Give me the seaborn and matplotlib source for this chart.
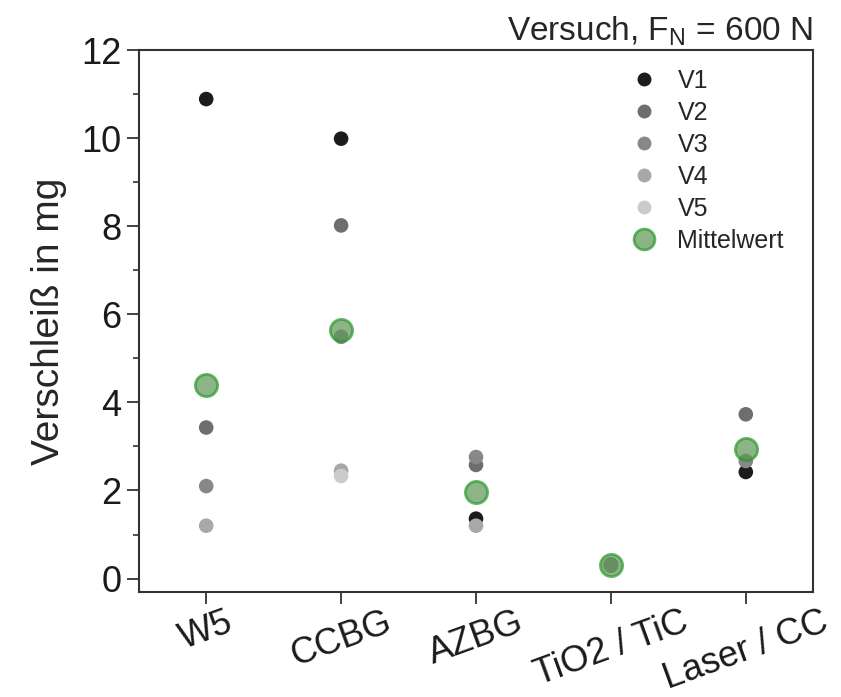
import pandas as pd
import matplotlib
matplotlib.use("Agg")
import matplotlib.pyplot as plt
from matplotlib.lines import Line2D
from matplotlib.ticker import MultipleLocator
import seaborn as sns

# Verschleiß je Probe und Versuch (mg), None = kein Versuch
categories = ["W5", "CCBG", "AZBG", "TiO2 / TiC", "Laser / CC"]
runs = ["V1", "V2", "V3", "V4", "V5"]
v1 = [10.89, 9.99, 1.36, 0.30, 2.42]
v2 = [3.43, 8.02, 2.58, 0.32, 3.73]
v3 = [2.10, 5.49, 2.76, 0.29, 2.67]
v4 = [1.20, 2.45, 1.20, None, None]
v5 = [None, 2.33, None, None, None]

run_colors = ["#1c1c1c", "#6e6e70", "#88888a", "#a8a8aa", "#cbcbcd"]
mean_face = "#5a9455"
mean_edge = "#2a9a2a"

sns.set_style("ticks")
plt.rcParams["font.family"] = ["Liberation Sans", "DejaVu Sans"]
plt.rcParams["mathtext.fontset"] = "custom"
plt.rcParams["mathtext.rm"] = "Liberation Sans"

rows = []
for run, vals in zip(runs, [v1, v2, v3, v4, v5]):
    for cat, v in zip(categories, vals):
        if v is not None:
            rows.append({"Probe": cat, "Versuch": run, "Verschleiss": v})
df = pd.DataFrame(rows)
means = df.groupby("Probe", sort=False)["Verschleiss"].mean().reindex(categories).reset_index()

fig, ax = plt.subplots(figsize=(8.41, 6.97), dpi=100)
fig.subplots_adjust(left=0.165, right=0.967, top=0.928, bottom=0.151)

sns.stripplot(data=df, x="Probe", y="Verschleiss", hue="Versuch", order=categories,
              hue_order=runs, palette=run_colors, jitter=False, dodge=False,
              size=10.5, linewidth=0, legend=False, ax=ax, zorder=2)
sns.stripplot(data=means, x="Probe", y="Verschleiss", order=categories, jitter=False,
              color=mean_face, edgecolor=mean_edge, linewidth=2, size=16, alpha=0.7,
              ax=ax, zorder=3)

ax.set_xlim(-0.5, 4.5)
ax.set_ylim(-0.3, 12)
ax.set_yticks(range(0, 13, 2))
ax.yaxis.set_minor_locator(MultipleLocator(1))
ax.set_xlabel("")
ax.set_ylabel("Verschleiß in mg", fontsize=28, labelpad=10)
ax.set_title("Versuch, F$_{\\mathrm{N}}$ = 600 N", loc="right", fontsize=24, pad=7)

ax.tick_params(axis="both", which="major", direction="out", length=8.5, width=1.3,
               colors="#333333", labelcolor="#1a1a1a")
ax.tick_params(axis="y", which="minor", direction="out", length=4.5, width=1.2, colors="#333333")
ax.tick_params(axis="y", labelsize=26, pad=4)
ax.tick_params(axis="x", labelsize=26, pad=1)
for lab in ax.get_xticklabels():
    lab.set_rotation(20)
    lab.set_ha("center")

for sp in ax.spines.values():
    sp.set_visible(True)
    sp.set_color("#333333")
    sp.set_linewidth(1.5)

handles = [Line2D([], [], marker="o", linestyle="", markersize=10, markerfacecolor=c,
                  markeredgewidth=0, label=r) for r, c in zip(runs, run_colors)]
handles.append(Line2D([], [], marker="o", linestyle="", markersize=15, markerfacecolor=mean_face,
                      markeredgecolor=mean_edge, markeredgewidth=2, alpha=0.7, label="Mittelwert"))
ax.legend(handles=handles, loc="upper left", bbox_to_anchor=(0.732, 0.966), frameon=False,
          fontsize=18, handlelength=0.95, handletextpad=0.85, labelspacing=0.32,
          borderpad=0, borderaxespad=0)

plt.savefig("out.png", dpi=100)
plt.close()
